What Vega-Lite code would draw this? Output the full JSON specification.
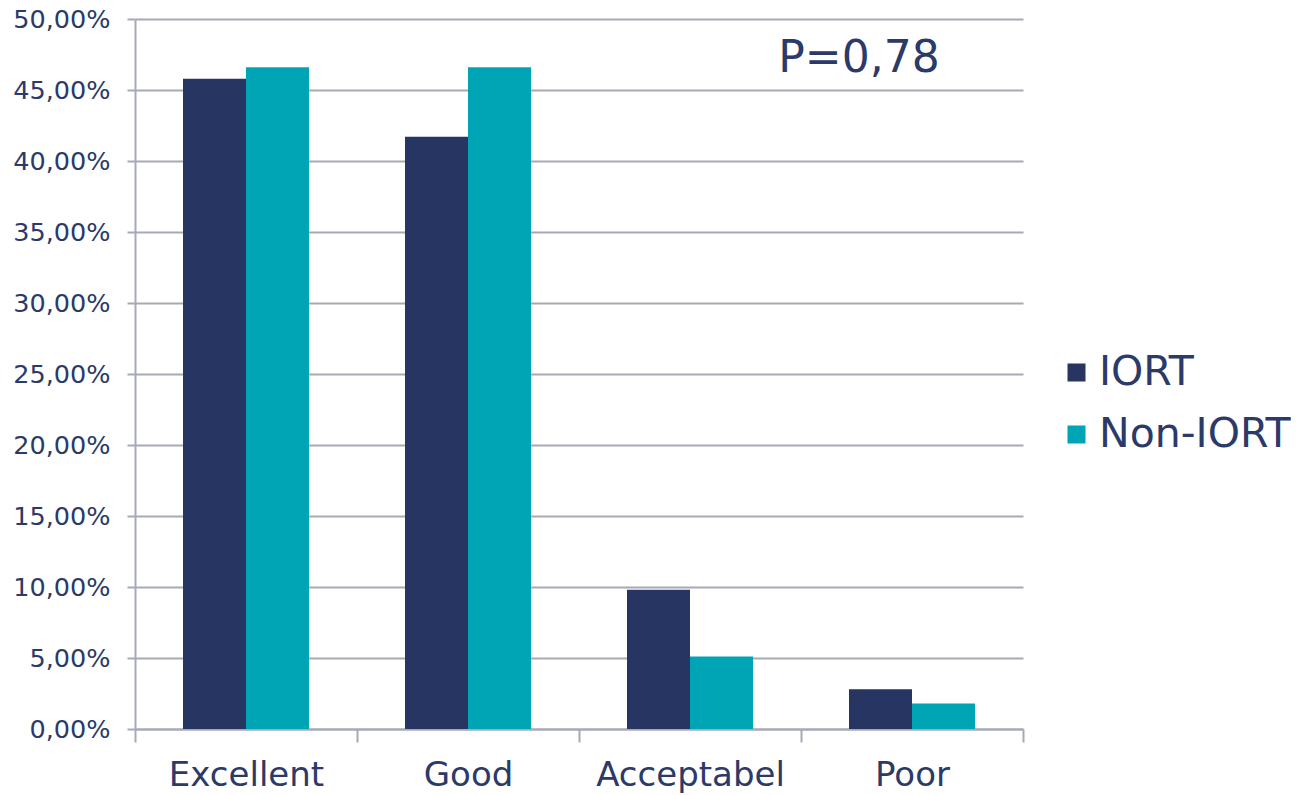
{
  "$schema": "https://vega.github.io/schema/vega-lite/v6.json",
  "autosize": {"type": "none"},
  "padding": {"left": 135, "top": 19, "right": 278, "bottom": 66},
  "width": 888,
  "height": 710,
  "background": "white",
  "config": {
    "view": {"stroke": null},
    "font": "DejaVu Sans"
  },
  "data": {
    "values": [
      {"category": "Excellent", "group": "IORT", "value": 0.458},
      {"category": "Excellent", "group": "Non-IORT", "value": 0.466},
      {"category": "Good", "group": "IORT", "value": 0.417},
      {"category": "Good", "group": "Non-IORT", "value": 0.466},
      {"category": "Acceptabel", "group": "IORT", "value": 0.098},
      {"category": "Acceptabel", "group": "Non-IORT", "value": 0.051},
      {"category": "Poor", "group": "IORT", "value": 0.028},
      {"category": "Poor", "group": "Non-IORT", "value": 0.018}
    ]
  },
  "layer": [
    {
      "mark": {"type": "bar"},
      "encoding": {
        "x": {
          "field": "category",
          "type": "nominal",
          "scale": {"domain": ["Excellent", "Good", "Acceptabel", "Poor"], "paddingInner": 0, "paddingOuter": 0},
          "axis": {
            "title": null,
            "labelAngle": 0,
            "labelFontSize": 34,
            "labelLimit": 400,
            "labelColor": "#2b3a68",
            "labelPadding": 16,
            "tickBand": "extent",
            "tickSize": 13,
            "tickWidth": 2,
            "tickColor": "#a6a9b6",
            "domainColor": "#a6a9b6",
            "domainWidth": 2,
            "grid": false
          }
        },
        "xOffset": {
          "field": "group",
          "type": "nominal",
          "scale": {"paddingInner": 0, "paddingOuter": 0.762}
        },
        "y": {
          "field": "value",
          "type": "quantitative",
          "scale": {"domain": [0, 0.5], "nice": false},
          "axis": {
            "title": null,
            "values": [0, 0.05, 0.1, 0.15, 0.2, 0.25, 0.3, 0.35, 0.4, 0.45, 0.5],
            "labelExpr": "replace(format(datum.value, '.2%'), '.', ',')",
            "labelFontSize": 25.5,
            "labelColor": "#2b3a68",
            "labelPadding": 17,
            "tickSize": 8,
            "tickWidth": 2,
            "tickColor": "#a6a9b6",
            "gridColor": "#a6a9b6",
            "gridWidth": 2,
            "domainColor": "#a6a9b6",
            "domainWidth": 2
          }
        },
        "color": {
          "field": "group",
          "type": "nominal",
          "scale": {"domain": ["IORT", "Non-IORT"], "range": ["#263561", "#00a5b5"]},
          "legend": {
            "title": null,
            "orient": "none",
            "legendX": 921,
            "legendY": 333,
            "symbolType": "square",
            "symbolSize": 324,
            "symbolStrokeWidth": 0,
            "labelFontSize": 41,
            "labelLimit": 400,
            "labelColor": "#2b3a68",
            "labelOffset": 2,
            "rowPadding": 20
          }
        }
      }
    },
    {
      "data": {"values": [{"category": "Poor", "pos": 0.4627, "label": "P=0,78"}]},
      "mark": {"type": "text", "fontSize": 44, "color": "#2b3a68", "align": "center", "baseline": "alphabetic", "dx": -53},
      "encoding": {
        "x": {"field": "category", "type": "nominal"},
        "y": {"field": "pos", "type": "quantitative"},
        "text": {"field": "label"}
      }
    }
  ]
}
